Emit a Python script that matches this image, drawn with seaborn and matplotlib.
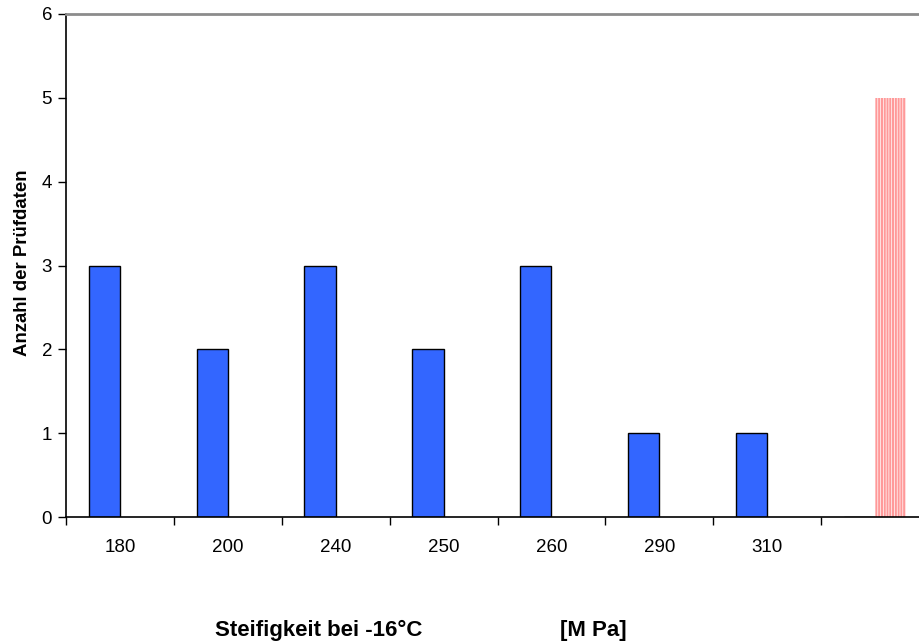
import seaborn as sns
import matplotlib.pyplot as plt
import pandas as pd

# Data
categories = ["180", "200", "240", "250", "260", "290", "310", ""]
counts_main = [3, 2, 3, 2, 3, 1, 1, 0]
counts_extra = [0, 0, 0, 0, 0, 0, 0, 5]
series_names = ["Prüfdaten", "Extra"]

sns.set_style("white")
plt.rcParams['font.family'] = ['Liberation Sans', 'DejaVu Sans']
plt.rcParams['hatch.linewidth'] = 1.5
plt.rcParams['text.color'] = 'black'
plt.rcParams['xtick.color'] = 'black'
plt.rcParams['ytick.color'] = 'black'

df = pd.DataFrame({
    "Kategorie": categories * 2,
    "Anzahl": counts_main + counts_extra,
    "Serie": [series_names[0]] * len(categories) + [series_names[1]] * len(categories),
})

fig = plt.figure(figsize=(9.19, 6.43), dpi=100)
ax = fig.add_axes([66 / 919, 1 - 517 / 643, (929 - 66) / 919, (517 - 14) / 643])

sns.barplot(data=df, x="Kategorie", y="Anzahl", hue="Serie", order=categories,
            palette=["#3366ff", "#ff9999"], width=0.58, saturation=1,
            edgecolor="black", linewidth=1, legend=False, ax=ax)

# red series: vertical stripes, no outline
for bar in ax.containers[1]:
    bar.set_facecolor("white")
    bar.set_edgecolor("#ff9999")
    bar.set_hatch("||||||")
    bar.set_linewidth(0)

ax.set_xlim(-0.5, len(categories) - 0.5)
ax.set_ylim(0, 6)
ax.set_yticks(range(0, 7))
ax.set_xticks(range(len(categories)))
ax.set_xticklabels(categories)
ax.set_xticks([i - 0.5 for i in range(len(categories) + 1)], minor=True)
ax.tick_params(axis="x", which="major", length=0, pad=16, labelsize=13.5)
ax.tick_params(axis="x", which="minor", length=6, width=1, direction="out", bottom=True)
ax.tick_params(axis="y", length=6, width=1, direction="out", left=True, pad=4, labelsize=13.5)

for side in ["left", "bottom"]:
    ax.spines[side].set_color("black")
    ax.spines[side].set_linewidth(1.2)
ax.spines["top"].set_color("#8c8c8c")
ax.spines["top"].set_linewidth(2)
ax.spines["right"].set_visible(False)

ax.set_xlabel("")
ax.set_ylabel("")
fig.text(23 / 919, 1 - 263 / 643, "Anzahl der Prüfdaten", rotation=90,
         ha="center", va="center", fontsize=13.4, fontweight="bold")
fig.text(215 / 919, 1 - 636 / 643, "Steifigkeit bei -16°C", ha="left",
         va="baseline", fontsize=16, fontweight="bold")
fig.text(560 / 919, 1 - 636 / 643, "[M Pa]", ha="left",
         va="baseline", fontsize=16, fontweight="bold")

fig.savefig("out.png", dpi=100)
